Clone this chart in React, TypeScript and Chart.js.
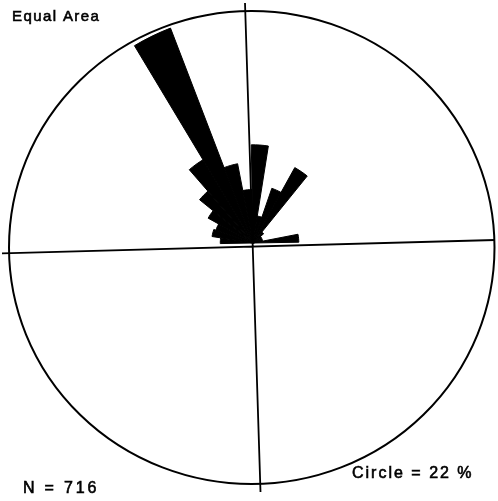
import React, { useEffect, useRef } from "react";
import { Chart, registerables } from "chart.js";

Chart.register(...registerables);

// 10-degree direction bins (start bearing, clockwise from north)
const binStarts = [
  0, 10, 20, 30, 40, 50, 60, 70, 80, 90, 100, 110, 120, 130, 140, 150, 160, 170,
  180, 190, 200, 210, 220, 230, 240, 250, 260, 270, 280, 290, 300, 310, 320, 330, 340, 350,
];
// Percentage of the N = 716 measurements in each bin (read from the rose)
const binPercent = [
  9.0, 2.5, 5.3, 7.9, 1.3, 0.9, 0.9, 0.9, 4.2, 0, 0, 0, 0, 0, 0, 0, 0, 0,
  0, 0, 0, 0, 0, 0, 0, 0, 0, 3.0, 3.8, 3.6, 4.7, 6.3, 8.9, 21.1, 7.4, 4.9,
];
const circlePercent = 22;
const nCount = 716;
const titleText = "Equal Area";
const nText = `N = ${nCount}`;
const circleText = `Circle = ${circlePercent} %`;

const frame = {
  id: "roseFrame",
  beforeDatasetsDraw(chart: any) {
    const ctx = chart.ctx;
    ctx.save();
    ctx.strokeStyle = "#000";
    ctx.lineWidth = 2;
    // reference circle
    ctx.beginPath();
    ctx.ellipse(251.75, 247.5, 242.75, 236.5, 0, 0, Math.PI * 2);
    ctx.stroke();
    // cross lines
    ctx.lineWidth = 1.8;
    ctx.beginPath();
    ctx.moveTo(245, 3);
    ctx.lineTo(260.5, 492);
    ctx.moveTo(2, 253.3);
    ctx.lineTo(495, 240);
    ctx.stroke();
    ctx.restore();
  },
  afterDraw(chart: any) {
    const ctx = chart.ctx;
    ctx.save();
    ctx.fillStyle = "#000";
    ctx.strokeStyle = "#000";
    ctx.lineWidth = 0.6;
    ctx.textAlign = "left";
    ctx.textBaseline = "alphabetic";
    const put = (t: string, x: number, y: number, size: number, sp: number) => {
      ctx.font = `${size}px 'Liberation Sans', Arial, sans-serif`;
      (ctx as any).letterSpacing = `${sp}px`;
      ctx.fillText(t, x, y);
      ctx.strokeText(t, x, y);
    };
    put(titleText, 12, 21, 15, 1.4);
    put(nText, 23, 493, 16, 2.8);
    put(circleText, 352, 478, 16, 2);
    ctx.restore();
  },
};

export default function App() {
  const ref = useRef<HTMLCanvasElement | null>(null);
  useEffect(() => {
    if (!ref.current) return;
    const chart = new Chart(ref.current, {
      type: "polarArea",
      data: {
        labels: binStarts.map((d) => `${d}°`),
        datasets: [
          {
            data: binPercent,
            backgroundColor: "#000",
            borderColor: "#000",
            borderWidth: 1,
          },
        ],
      },
      options: {
        responsive: false,
        animation: false,
        devicePixelRatio: 1,
        layout: { padding: { left: 13, right: 5, top: 3, bottom: 18 } },
        scales: {
          r: {
            min: 0,
            max: circlePercent,
            startAngle: -1,
            ticks: { display: false },
            grid: { display: false },
            angleLines: { display: false },
            pointLabels: { display: false },
          },
        },
        plugins: {
          legend: { display: false },
          tooltip: { enabled: false },
          title: { display: false },
        },
      },
      plugins: [frame],
    });
    return () => chart.destroy();
  }, []);
  return (
    <div style={{ position: "fixed", left: 0, top: 0, width: 498, height: 501, background: "#fff" }}>
      <canvas ref={ref} width={498} height={501} style={{ width: 498, height: 501, display: "block" }} />
    </div>
  );
}
